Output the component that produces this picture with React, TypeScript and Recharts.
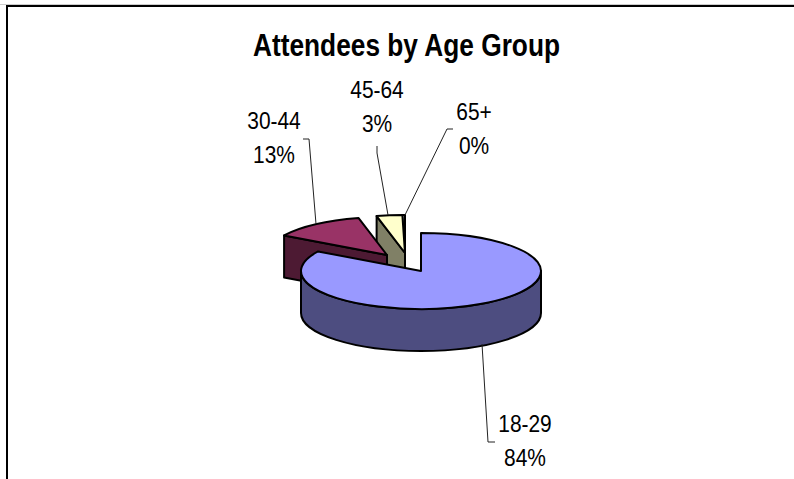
import { PieChart, Pie } from 'recharts';

const ageGroups = ['65+', '45-64', '30-44', '18-29'];
const shares = [0.35, 3.45, 12.6, 83.6];

const chartData = ageGroups.map((name, i) => ({ name, share: shares[i] }));

// old Excel palette, top face and side wall
const topColors = ['#FFFFFF', '#FFFFCC', '#993366', '#9999FF'];
const sideColors = ['#FFFFFF', '#808066', '#4D1A33', '#4D4D80'];

// how far each slice is pulled out of the pie
const explode = [
  { dx: -16, dy: -18 },
  { dx: -16, dy: -18 },
  { dx: -34, dy: -16 },
  { dx: 0, dy: 0 },
];

// label text spot and leader line for each slice
const labelSpots = [
  { x: 474, y: 119, line: '453,129 447,129 405,215' },
  { x: 377, y: 97, line: '377,146 377,153 388,215' },
  { x: 274, y: 128, line: '303,139 309,139 316,224' },
  { x: 525, y: 431, line: '482,344 488,442 495,442' },
];

const TILT = 38 / 120;
const DEPTH = 42;
const rad = (a: number) => (a * Math.PI) / 180;

function SliceShape(props: any) {
  const { cx, cy, outerRadius: r, startAngle, endAngle, index } = props;
  const i = index ?? ageGroups.indexOf(props.name);
  const ox = cx + explode[i].dx;
  const oy = cy + explode[i].dy;
  const ry = r * TILT;
  const px = (a: number) => ox + r * Math.cos(rad(a));
  const py = (a: number) => oy - ry * Math.sin(rad(a));
  const edge = { stroke: '#000', strokeWidth: 2, strokeLinejoin: 'round' as const };

  const cutFace = (a: number) =>
    `M${ox},${oy} L${px(a)},${py(a)} L${px(a)},${py(a) + DEPTH} L${ox},${oy + DEPTH} Z`;

  const wallFrom = Math.max(startAngle, 180);
  const wallTo = Math.min(endAngle, 360);
  const wall =
    wallFrom < wallTo
      ? `M${px(wallFrom)},${py(wallFrom)} A${r},${ry} 0 0 0 ${px(wallTo)},${py(wallTo)} ` +
        `L${px(wallTo)},${py(wallTo) + DEPTH} A${r},${ry} 0 0 1 ${px(wallFrom)},${py(wallFrom) + DEPTH} Z`
      : null;

  const large = endAngle - startAngle > 180 ? 1 : 0;
  const top = `M${ox},${oy} L${px(startAngle)},${py(startAngle)} A${r},${ry} 0 ${large} 0 ${px(endAngle)},${py(endAngle)} Z`;

  return (
    <g>
      {Math.cos(rad(startAngle)) > 0.001 && <path d={cutFace(startAngle)} fill={sideColors[i]} {...edge} />}
      {Math.cos(rad(endAngle)) < -0.001 && <path d={cutFace(endAngle)} fill={sideColors[i]} {...edge} />}
      {wall && <path d={wall} fill={sideColors[i]} {...edge} />}
      <path d={top} fill={topColors[i]} {...edge} />
    </g>
  );
}

function SliceLabel(props: any) {
  const i = ageGroups.indexOf(props.name);
  const spot = labelSpots[i];
  const style = { fontFamily: '"Liberation Sans", Arial, sans-serif', fontSize: 23, fill: '#000' };
  // the original text is a bit squeezed sideways
  return (
    <g transform={`translate(${spot.x},${spot.y}) scale(0.91,1)`}>
      <text x={0} y={0.5} textAnchor="middle" style={style}>{props.name}</text>
      <text x={0} y={35.5} textAnchor="middle" style={style}>
        {`${Math.round(props.percent * 100)}%`}
      </text>
    </g>
  );
}

function LeaderLine(props: any) {
  const spot = labelSpots[ageGroups.indexOf(props.name)];
  return <polyline points={spot.line} fill="none" stroke="#222" strokeWidth={1} />;
}

export default function App() {
  return (
    <div style={{ position: 'absolute', left: 0, top: 0, width: 794, height: 479, background: '#fff', overflow: 'hidden' }}>
      <div style={{ position: 'absolute', left: 0, top: 4, width: 794, height: 1, background: '#ccc' }} />
      <div style={{ position: 'absolute', left: 6, top: 5, right: 0, bottom: 0, borderLeft: '2px solid #000', borderTop: '2px solid #000' }} />
      <div style={{ position: 'absolute', left: 0, top: 0 }}>
        <PieChart width={794} height={479} margin={{ top: 0, right: 0, bottom: 0, left: 0 }}>
          <text
            x={253}
            y={56}
            textLength={307}
            lengthAdjust="spacingAndGlyphs"
            style={{ fontFamily: '"Liberation Sans", Arial, sans-serif', fontSize: 31, fontWeight: 'bold', fill: '#000' }}
          >
            Attendees by Age Group
          </text>
          <Pie
            data={chartData}
            dataKey="share"
            nameKey="name"
            cx={421}
            cy={271}
            outerRadius={120}
            startAngle={90}
            endAngle={450}
            paddingAngle={0}
            minAngle={0}
            shape={SliceShape}
            label={SliceLabel}
            labelLine={LeaderLine}
            isAnimationActive={false}
          />
        </PieChart>
      </div>
    </div>
  );
}
